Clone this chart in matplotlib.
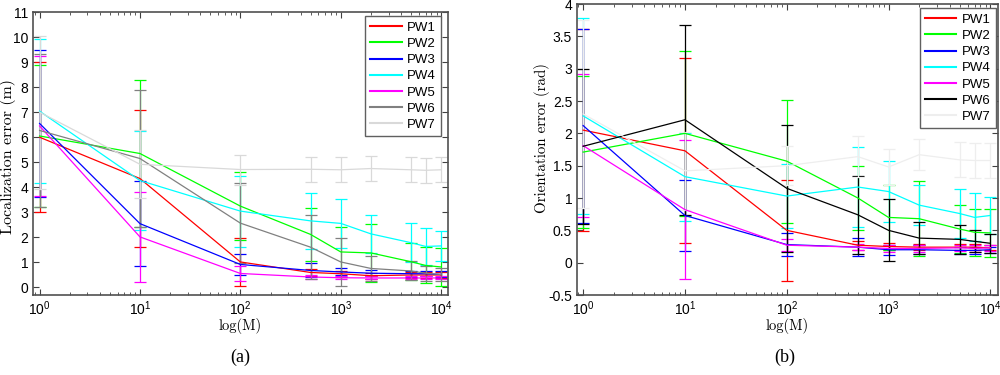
import matplotlib
matplotlib.use('Agg')
import matplotlib.pyplot as plt
from matplotlib.ticker import LogLocator, MultipleLocator, NullFormatter, FormatStrFormatter

plt.rcParams['font.family'] = ['Liberation Sans', 'DejaVu Sans']
plt.rcParams['mathtext.default'] = 'regular'
plt.rcParams['axes.unicode_minus'] = False

# sample sizes M
M = [1, 10, 100, 500, 1000, 2000, 5000, 7000, 10000]
labels = ['PW1', 'PW2', 'PW3', 'PW4', 'PW5', 'PW6', 'PW7']

# (a) localization error (m): mean and error bar half-length
loc_pw1 = [6.0, 4.35, 1.02, 0.6, 0.55, 0.47, 0.5, 0.5, 0.5]
loc_pw1_err = [3.0, 2.75, 0.95, 0.15, 0.12, 0.12, 0.12, 0.12, 0.12]
loc_pw2 = [6.05, 5.35, 3.25, 2.12, 1.42, 1.38, 1.03, 0.88, 0.82]
loc_pw2_err = [2.85, 2.95, 1.35, 1.05, 1.0, 1.15, 0.75, 0.72, 0.75]
loc_pw3 = [6.55, 2.55, 0.92, 0.68, 0.62, 0.57, 0.55, 0.55, 0.52]
loc_pw3_err = [2.93, 1.7, 0.43, 0.28, 0.14, 0.12, 0.12, 0.1, 0.12]
loc_pw4 = [7.04, 4.27, 3.05, 2.66, 2.56, 2.14, 1.79, 1.64, 1.66]
loc_pw4_err = [2.87, 1.97, 1.42, 1.13, 0.98, 0.75, 0.79, 0.73, 0.6]
loc_pw5 = [6.45, 2.02, 0.56, 0.42, 0.39, 0.38, 0.38, 0.38, 0.38]
loc_pw5_err = [2.78, 1.8, 0.3, 0.07, 0.06, 0.06, 0.06, 0.06, 0.06]
loc_pw6 = [6.27, 5.15, 2.57, 1.61, 1.02, 0.76, 0.66, 0.57, 0.52]
loc_pw6_err = [3.05, 2.72, 1.6, 1.27, 0.95, 0.5, 0.38, 0.3, 0.25]
loc_pw7 = [7.0, 4.92, 4.71, 4.72, 4.7, 4.75, 4.7, 4.68, 4.7]
loc_pw7_err = [3.05, 1.35, 0.6, 0.5, 0.5, 0.5, 0.5, 0.5, 0.5]

# (b) orientation error (rad)
ori_pw1 = [2.05, 1.73, 0.5, 0.27, 0.25, 0.24, 0.24, 0.24, 0.23]
ori_pw1_err = [1.56, 1.43, 0.78, 0.07, 0.06, 0.05, 0.05, 0.05, 0.04]
ori_pw2 = [1.71, 2.0, 1.57, 1.0, 0.7, 0.68, 0.52, 0.47, 0.46]
ori_pw2_err = [1.17, 1.28, 0.95, 0.5, 0.5, 0.58, 0.37, 0.36, 0.37]
ori_pw3 = [2.12, 0.73, 0.28, 0.24, 0.2, 0.2, 0.19, 0.19, 0.2]
ori_pw3_err = [1.5, 0.55, 0.18, 0.14, 0.08, 0.07, 0.06, 0.05, 0.05]
ori_pw4 = [2.27, 1.33, 1.03, 1.17, 1.1, 0.89, 0.76, 0.7, 0.73]
ori_pw4_err = [1.51, 0.68, 0.5, 0.62, 0.47, 0.31, 0.38, 0.37, 0.28]
ori_pw5 = [1.81, 0.82, 0.27, 0.24, 0.22, 0.22, 0.23, 0.22, 0.23]
ori_pw5_err = [1.1, 1.08, 0.09, 0.05, 0.05, 0.05, 0.05, 0.05, 0.05]
ori_pw6 = [1.8, 2.21, 1.15, 0.74, 0.5, 0.38, 0.36, 0.33, 0.3]
ori_pw6_err = [1.2, 1.47, 0.98, 0.6, 0.48, 0.25, 0.23, 0.17, 0.15]
ori_pw7 = [2.3, 1.42, 1.5, 1.64, 1.48, 1.67, 1.59, 1.58, 1.58]
ori_pw7_err = [1.45, 0.6, 0.3, 0.32, 0.28, 0.24, 0.27, 0.27, 0.27]

colors_a = ['#ff0000', '#00ff00', '#0000ff', '#00ffff', '#ff00ff', '#808080', '#d9d9d9']
colors_b = ['#ff0000', '#00ff00', '#0000ff', '#00ffff', '#ff00ff', '#000000', '#eeeeee']

loc_means = [loc_pw1, loc_pw2, loc_pw3, loc_pw4, loc_pw5, loc_pw6, loc_pw7]
loc_errs = [loc_pw1_err, loc_pw2_err, loc_pw3_err, loc_pw4_err, loc_pw5_err, loc_pw6_err, loc_pw7_err]
ori_means = [ori_pw1, ori_pw2, ori_pw3, ori_pw4, ori_pw5, ori_pw6, ori_pw7]
ori_errs = [ori_pw1_err, ori_pw2_err, ori_pw3_err, ori_pw4_err, ori_pw5_err, ori_pw6_err, ori_pw7_err]


def style_axes(ax):
    ax.set_xscale('log')
    ax.xaxis.set_major_locator(LogLocator(base=10, numticks=10))
    ax.xaxis.set_minor_locator(LogLocator(base=10, subs=range(2, 10), numticks=20))
    ax.xaxis.set_minor_formatter(NullFormatter())
    ax.yaxis.set_major_formatter(FormatStrFormatter('%g'))
    ax.tick_params(which='both', direction='in', top=True, right=True,
                   labelsize=10, color='#404040')
    ax.tick_params(which='major', length=4)
    ax.tick_params(which='minor', length=2)
    for s in ax.spines.values():
        s.set_color('#505050')
        s.set_linewidth(1.2)


def draw_panel(ax, means, errs, colors):
    handles = []
    for m, e, c, lab in zip(means, errs, colors, labels):
        eb = ax.errorbar(M, m, yerr=e, color=c, lw=0.9, elinewidth=0.9,
                         capsize=4, capthick=0.9, label=lab)
        handles.append(eb.lines[0])
    return handles


def add_legend(ax, handles, anchor):
    leg = ax.legend(handles, labels, loc='upper right', bbox_to_anchor=anchor,
                    borderaxespad=0, fontsize=9.5, labelspacing=0.3,
                    handlelength=2.4, handletextpad=0.4, fancybox=False,
                    framealpha=1, edgecolor='#606060')
    for h in leg.get_lines():
        h.set_linewidth(1.5)


fig = plt.figure(figsize=(10, 3.75), dpi=100)

ax1 = fig.add_axes([0.033, 0.2133, 0.415, 0.7547])
h1 = draw_panel(ax1, loc_means, loc_errs, colors_a)
style_axes(ax1)
ax1.set_xlim(0.86, 11700)
ax1.set_ylim(-0.3, 11)
ax1.yaxis.set_major_locator(MultipleLocator(1))
ax1.set_xlabel('log(M)', family='cmr10', fontsize=10.5)
ax1.xaxis.set_label_coords(0.5, -0.08)
ax1.set_ylabel('Localization error (m)', family='cmr10', fontsize=11.5)
ax1.yaxis.set_label_coords(-0.041, 0.488)
add_legend(ax1, h1, (0.983, 0.985))

ax2 = fig.add_axes([0.577, 0.2133, 0.421, 0.776])
h2 = draw_panel(ax2, ori_means, ori_errs, colors_b)
style_axes(ax2)
ax2.set_xlim(0.87, 11900)
ax2.set_ylim(-0.5, 4)
ax2.yaxis.set_major_locator(MultipleLocator(0.5))
ax2.set_xlabel('log(M)', family='cmr10', fontsize=10.5)
ax2.xaxis.set_label_coords(0.5, -0.08)
ax2.set_ylabel('Orientation error (rad)', family='cmr10', fontsize=10.8)
ax2.yaxis.set_label_coords(-0.064, 0.54)
add_legend(ax2, h2, (0.995, 0.985))

fig.text(0.24, 0.048, '(a)', ha='center', va='center', family='Liberation Serif', fontsize=13)
fig.text(0.785, 0.048, '(b)', ha='center', va='center', family='Liberation Serif', fontsize=13)

fig.savefig('out.png', dpi=100)
